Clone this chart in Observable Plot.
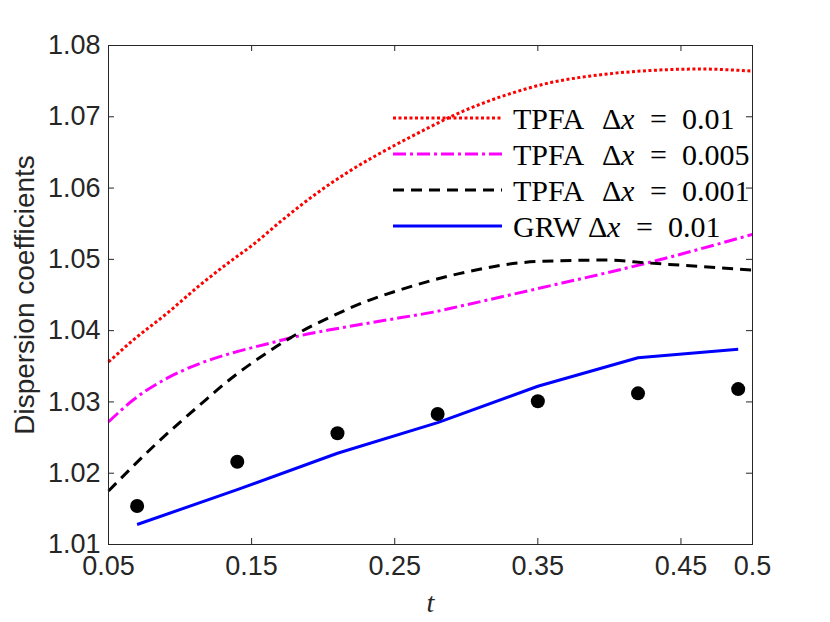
<!DOCTYPE html>
<html>
<head>
<meta charset="utf-8">
<script src="https://cdn.jsdelivr.net/npm/d3@7"></script>
<script src="https://cdn.jsdelivr.net/npm/@observablehq/plot@0.6"></script>
<style>
  body { margin: 0; background: white; }
  #wrap { position: relative; width: 830px; height: 622px; }
  #legend { position: absolute; left: 380px; top: 95px; }
</style>
</head>
<body>
<div id="wrap"><div id="chart"></div><svg id="legend" width="420" height="150"></svg></div>
<script>
// ---- data ----
const xTicks = [0.05, 0.15, 0.25, 0.35, 0.45, 0.5];
const yTicks = [1.01, 1.02, 1.03, 1.04, 1.05, 1.06, 1.07, 1.08];

const redT = [0.05, 0.0674, 0.0907, 0.114, 0.137, 0.15, 0.172, 0.195, 0.2186, 0.25, 0.273, 0.289, 0.324, 0.359, 0.394, 0.429, 0.464, 0.5];
const redV = [1.0356, 1.0387, 1.0424, 1.0464, 1.0500, 1.0519, 1.0556, 1.0592, 1.0624, 1.0660, 1.0684, 1.0700, 1.0728, 1.0748, 1.0759, 1.0765, 1.0767, 1.0764];

const magT = [0.05, 0.0674, 0.0907, 0.114, 0.137, 0.16, 0.184, 0.207, 0.23, 0.2535, 0.277, 0.295, 0.35, 0.4265, 0.5];
const magV = [1.0272, 1.0303, 1.0333, 1.0354, 1.0369, 1.0381, 1.0393, 1.0402, 1.0410, 1.0418, 1.0426, 1.0434, 1.0459, 1.0495, 1.0535];

const blkT = [0.05, 0.0837, 0.114, 0.137, 0.16, 0.184, 0.207, 0.23, 0.2535, 0.277, 0.295, 0.35, 0.397, 0.4265, 0.5];
const blkV = [1.0175, 1.0242, 1.0296, 1.0335, 1.0368, 1.0398, 1.0421, 1.0441, 1.0457, 1.0471, 1.0480, 1.0497, 1.0499, 1.0495, 1.0485];

const grwT = [0.07, 0.14, 0.21, 0.28, 0.35, 0.42, 0.49];
const grwV = [1.0128, 1.0177, 1.0228, 1.0271, 1.0322, 1.0362, 1.0374];

const dotT = [0.07, 0.14, 0.21, 0.28, 0.35, 0.42, 0.49];
const dotV = [1.0154, 1.0216, 1.0256, 1.0283, 1.0301, 1.0312, 1.0318];

const legendPrefix = ["TPFA", "TPFA", "TPFA", "GRW"];
const legendValue = ["0.01", "0.005", "0.001", "0.01"];

// ---- styles ----
const styles = [
  {color: "#ff0000", dash: "3,2.5", curve: "monotone-x"},
  {color: "#ff00ff", dash: "13,4,3,4", curve: "monotone-x"},
  {color: "#000000", dash: "11,7", curve: "monotone-x"},
  {color: "#0000ff", dash: null, curve: "linear"}
];
const seriesT = [redT, magT, blkT, grwT];
const seriesV = [redV, magV, blkV, grwV];

const W = 830, H = 622, mL = 108, mR = 78, mT = 45, mB = 78;
const pw = W - mL - mR, ph = H - mT - mB, tk = 6;
const axisColor = "#262626";

const lineMarks = seriesT.map((ts, i) => {
  const data = ts.map((t, j) => ({t, v: seriesV[i][j]}));
  return Plot.line(data, {
    x: "t", y: "v", stroke: styles[i].color, strokeWidth: 3,
    strokeDasharray: styles[i].dash, curve: styles[i].curve,
    strokeLinecap: "butt", strokeLinejoin: "round"
  });
});

const dots = dotT.map((t, j) => ({t, v: dotV[j]}));

const chart = Plot.plot({
  width: W, height: H,
  marginLeft: mL, marginRight: mR, marginTop: mT, marginBottom: mB,
  x: {domain: [0.05, 0.5]},
  y: {domain: [1.01, 1.08]},
  style: {fontFamily: "'Liberation Sans', Arial, sans-serif", color: axisColor, background: "white", overflow: "visible"},
  marks: [
    Plot.axisX({ticks: xTicks, tickSize: 0, tickPadding: 11, fontSize: 27, tickFormat: d => String(d), label: null}),
    Plot.axisY({ticks: yTicks, tickSize: 0, tickPadding: 8, fontSize: 27, tickFormat: d => d.toFixed(2), label: null}),
    ...lineMarks,
    Plot.dot(dots, {x: "t", y: "v", r: 7, fill: "black", stroke: "none"}),
    Plot.tickX(xTicks, {x: d => d, insetTop: ph - tk, stroke: axisColor, strokeWidth: 1}),
    Plot.tickX(xTicks, {x: d => d, insetBottom: ph - tk, stroke: axisColor, strokeWidth: 1}),
    Plot.tickY(yTicks, {y: d => d, insetRight: pw - tk, stroke: axisColor, strokeWidth: 1}),
    Plot.tickY(yTicks, {y: d => d, insetLeft: pw - tk, stroke: axisColor, strokeWidth: 1}),
    Plot.frame({stroke: axisColor, strokeWidth: 1}),
    Plot.text(["Dispersion coefficients"], {frameAnchor: "left", text: d => d, rotate: -90, dx: -83, textAnchor: "middle", lineAnchor: "middle", fontSize: 28, fill: axisColor}),
    Plot.text(["t"], {frameAnchor: "bottom", text: d => d, dy: 59, textAnchor: "middle", lineAnchor: "middle", fontSize: 28, fontStyle: "italic", fontFamily: "'Liberation Serif', 'Times New Roman', serif", fill: axisColor})
  ]
});
document.getElementById("chart").appendChild(chart);

// ---- legend ----
const lg = d3.select("#legend");
const rowY = [23, 59, 95, 131];
legendPrefix.forEach((p, i) => {
  const y = rowY[i];
  lg.append("line").attr("x1", 13).attr("x2", 122).attr("y1", y).attr("y2", y)
    .attr("stroke", styles[i].color).attr("stroke-width", 3)
    .attr("stroke-dasharray", styles[i].dash);
  const dX = p === "GRW" ? 208 : 222;
  const txt = lg.append("text").attr("y", y).attr("dominant-baseline", "central")
    .attr("font-family", "'Liberation Serif', 'Times New Roman', serif").attr("font-size", 30).attr("fill", "black");
  txt.append("tspan").attr("x", 133).text(p);
  txt.append("tspan").attr("x", dX).text("Δ");
  txt.append("tspan").attr("x", dX + 19).attr("font-style", "italic").text("x");
  txt.append("tspan").attr("x", dX + 48).text("=");
  txt.append("tspan").attr("x", dX + 80).text(legendValue[i]);
});
</script>
</body>
</html>
